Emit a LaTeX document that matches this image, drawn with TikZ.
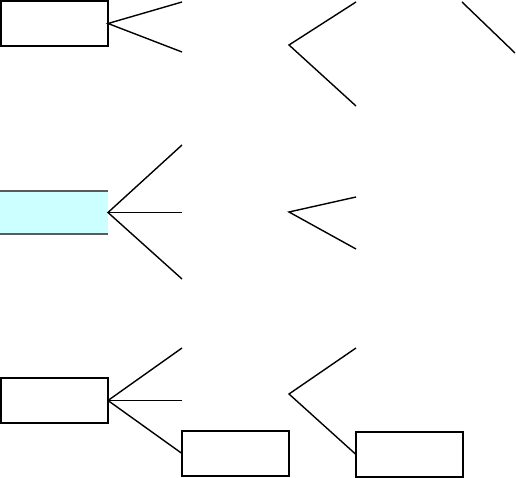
\documentclass[tikz,border=0pt]{standalone}
\begin{document}
\begin{tikzpicture}[x=1pt,y=-1pt,
  line/.style={line width=1.4pt,black},
  box/.style={draw,line width=1.4pt,minimum width=107pt,minimum height=45pt,inner sep=0pt,outer sep=0pt,anchor=north west},
  cyanbox/.style={fill={rgb,255:red,204;green,255;blue,255},minimum width=108pt,minimum height=43pt,inner sep=0pt,outer sep=0pt,anchor=north west},
  edgeline/.style={line width=1.4pt,draw={rgb,255:red,90;green,90;blue,90}}]
\useasboundingbox (0,0) rectangle (516,478);
% row 1
\node[box] (b1) at (1,1) {};
\coordinate (a1) at (182,2);
\coordinate (a2) at (182,52);
\draw[line] (a1) -- (b1.east) -- (a2);
\coordinate (v1) at (289,45);
\coordinate (c1) at (356,2);
\coordinate (c2) at (356,106);
\draw[line] (c1) -- (v1) -- (c2);
\coordinate (d1) at (462,2);
\coordinate (d2) at (515,53);
\draw[line] (d1) -- (d2);
% row 2
\node[cyanbox] (b2) at (0,191) {};
\draw[edgeline] (b2.north west) -- (b2.north east);
\draw[edgeline] (b2.south west) -- (b2.south east);
\coordinate (e1) at (182,145);
\path (b2.east) ++(74,0) coordinate (e2);
\coordinate (e3) at (182,279);
\draw[line] (e1) -- (b2.east) -- (e3);
\draw[line] (b2.east) -- (e2);
\coordinate (v2) at (289,212);
\coordinate (f1) at (356,197);
\coordinate (f2) at (356,249);
\draw[line] (f1) -- (v2) -- (f2);
% row 3
\node[box] (b3) at (1,378) {};
\node[box] (b4) at (182,431) {};
\coordinate (g1) at (182,348);
\path (b3.east) ++(74,0) coordinate (g2);
\draw[line] (g1) -- (b3.east) -- (b4.west);
\draw[line] (b3.east) -- (g2);
\node[box] (b5) at (356,432) {};
\coordinate (v3) at (289,394);
\coordinate (h1) at (356,348);
\draw[line] (h1) -- (v3) -- (b5.west);
\end{tikzpicture}
\end{document}
